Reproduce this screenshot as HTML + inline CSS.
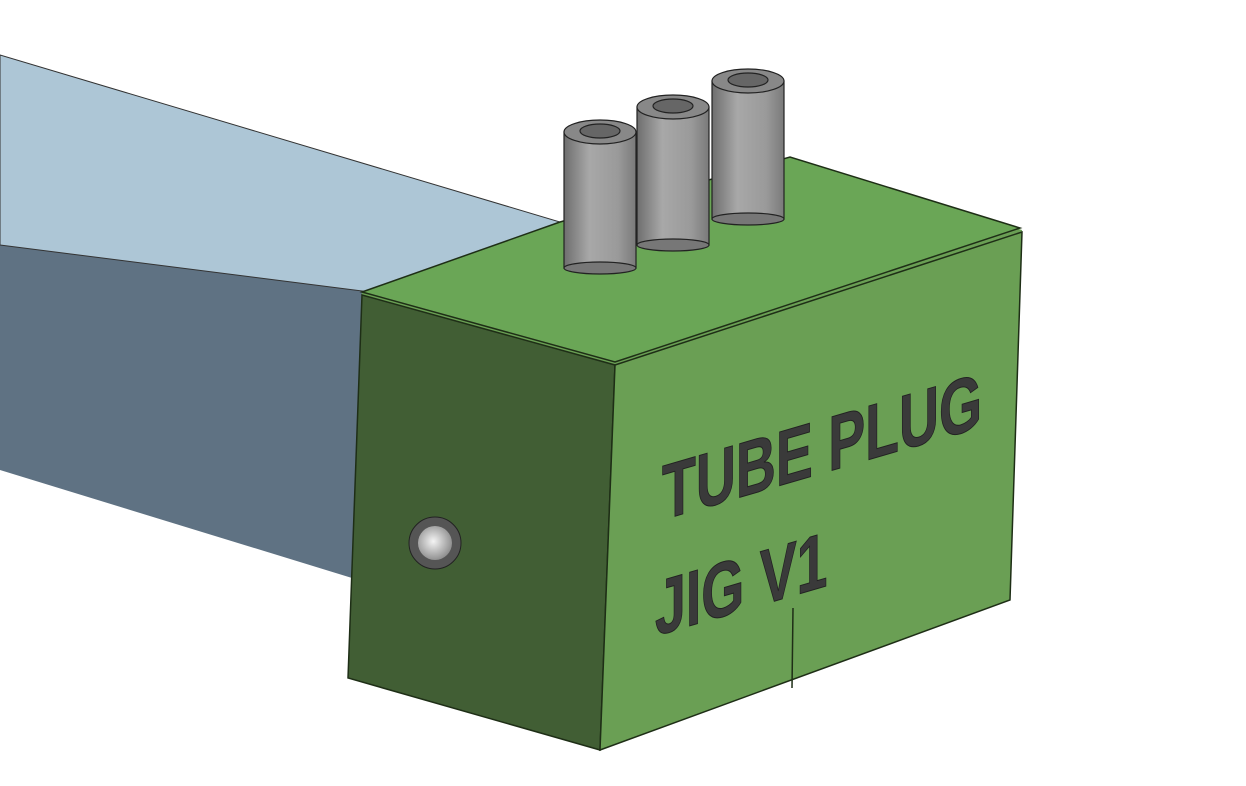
<!DOCTYPE html>
<html><head><style>body{margin:0;background:#fff}svg{display:block}</style></head><body>
<svg width="1246" height="786" viewBox="0 0 1246 786" xmlns="http://www.w3.org/2000/svg">
<defs>
<linearGradient id="cyl" x1="0" x2="1" y1="0" y2="0">
<stop offset="0" stop-color="#6e6e6e"/><stop offset="0.35" stop-color="#a8a8a8"/><stop offset="0.75" stop-color="#9a9a9a"/><stop offset="1" stop-color="#7a7a7a"/></linearGradient>
<radialGradient id="hole" cx="0.45" cy="0.45" r="0.6"><stop offset="0" stop-color="#f4f4f4"/><stop offset="1" stop-color="#888"/></radialGradient>
</defs>
<!-- tube -->
<polygon points="0,243 365,290 352,578 0,470" fill="#5f7283"/>
<polygon points="0,55 560,222 370,292 0,245" fill="#adc6d6" stroke="#333" stroke-width="1"/>
<!-- box base fill to avoid gaps -->
<polygon points="362,292 560,222 790,157 1022,230 1010,600 600,750 348,678" fill="#6a9f54"/>
<!-- box top -->
<polygon points="362,292 560,222 790,157 1020,228 615,362" fill="#6aa656" stroke="#1e2e16" stroke-width="1.5"/>
<!-- left face -->
<polygon points="362,295 615,365 600,750 348,678" fill="#415e34" stroke="#1e2e16" stroke-width="1.5"/>
<!-- right face -->
<polygon points="615,365 1022,232 1010,600 600,750" fill="#6a9f54" stroke="#1e2e16" stroke-width="1.5"/>
<line x1="793" y1="608" x2="792" y2="688" stroke="#1e2e16" stroke-width="1.5"/>
<!-- hole -->
<circle cx="435" cy="543" r="26" fill="#555" stroke="#222"/>
<circle cx="435" cy="543" r="17" fill="url(#hole)"/>
<!-- pegs -->
<g stroke="#222" stroke-width="1.2">
<rect x="564" y="132" width="72" height="136" fill="url(#cyl)"/>
<ellipse cx="600" cy="268" rx="36" ry="6" fill="#777"/>
<ellipse cx="600" cy="132" rx="36" ry="12" fill="#888"/>
<ellipse cx="600" cy="131" rx="20" ry="7" fill="#666"/>
<rect x="637" y="107" width="72" height="138" fill="url(#cyl)"/>
<ellipse cx="673" cy="245" rx="36" ry="6" fill="#777"/>
<ellipse cx="673" cy="107" rx="36" ry="12" fill="#888"/>
<ellipse cx="673" cy="106" rx="20" ry="7" fill="#666"/>
<rect x="712" y="81" width="72" height="138" fill="url(#cyl)"/>
<ellipse cx="748" cy="219" rx="36" ry="6" fill="#777"/>
<ellipse cx="748" cy="81" rx="36" ry="12" fill="#888"/>
<ellipse cx="748" cy="80" rx="20" ry="7" fill="#666"/>
</g>
<!-- text -->
<g font-family="Liberation Sans, sans-serif" font-weight="bold" fill="#3a3a3a" stroke="#222" stroke-width="1">
<text x="0" y="0" font-size="78" transform="matrix(0.96,-0.28,0,1,662,520) scale(0.74,1)">TUBE PLUG</text>
<text x="0" y="0" font-size="78" transform="matrix(0.96,-0.28,0,1,655,636) scale(0.74,1)">JIG V1</text>
</g>
</svg>
</body></html>
